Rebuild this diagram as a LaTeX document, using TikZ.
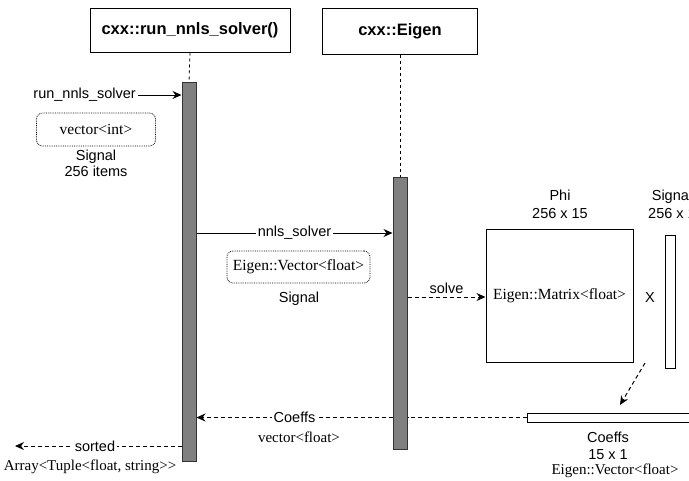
\documentclass[tikz,border=0pt]{standalone}
\usepackage{fontspec}
\setmainfont{Liberation Serif}
\setsansfont{Liberation Sans}
\usetikzlibrary{arrows.meta}

\tikzset{
  head/.style={draw, line width=1pt, inner sep=0pt, minimum height=44pt,
    font=\sffamily\bfseries\fontsize{16.5}{19}\selectfont},
  actbar/.style={draw=black!80, fill=black!50, line width=1pt,
    minimum width=14pt, inner sep=0pt, anchor=north},
  msg/.style={font=\sffamily\fontsize{14.5}{18}\selectfont, inner sep=2pt, align=center},
  typ/.style={font=\fontsize{15}{17}\selectfont, inner sep=1pt},
  typbox/.style={draw, densely dotted, line width=0.8pt, rounded corners=6pt,
    font=\fontsize{15.5}{17}\selectfont, inner sep=0pt},
  life/.style={dashed, line width=0.8pt},
  call/.style={line width=1pt, -{Stealth[length=9pt,width=8pt]}},
  reply/.style={line width=1pt, dash pattern=on 4pt off 3pt, -{Stealth[length=9pt,width=8pt]}},
}

\begin{document}
\begin{tikzpicture}[x=1pt, y=-1pt]
    \useasboundingbox (0,0) rectangle (689,480);
    \clip (0,0) rectangle (689,480);

    % Participants
    \node[head, minimum width=200pt] (runner) at (190,30) {cxx::run\_nnls\_solver()};
    \node[head, minimum width=155pt, minimum height=46pt] (eigen) at (400,31) {cxx::Eigen};

    % Activations
    \node[actbar, minimum height=379pt] (act1) at (189,82) {};
    \node[actbar, minimum height=272pt] (act2) at (400,177) {};
    \draw[life] (runner.south) -- (act1.north);
    \draw[life] (eigen.south) -- (act2.north);

    % Entry call
    \node[msg, anchor=east] (entry) at (138,95) {run\_nnls\_solver};
    \draw[call] (entry.east) -- (act1.west |- entry.east);
    \node[typbox, minimum width=119pt, minimum height=33pt] (intvec) at (96,129.5) {vector<int>};
    \node[msg, below=0pt] (intlbl) at (96,148) {Signal\\[-2pt]256 items};

    % Call into Eigen
    \draw[call] (act1.east |- 0,233) -- node[msg, fill=white] (solvercall) {nnls\_solver} (act2.west |- 0,233);
    \node[typbox, minimum width=143pt, minimum height=32pt] (fvec) at (298.5,267) {Eigen::Vector<float>};
    \node[msg] (fveclbl) at (299,299) {Signal};

    % Phi x Signal
    \node[draw, line width=1pt, minimum width=147pt, minimum height=133pt, inner sep=0pt,
      font=\fontsize{15.5}{17}\selectfont] (phi) at (559.5,295.5) {Eigen::Matrix<float>};
    \node[msg] (philbl) at (560,204) {Phi\\256 x 15};
    \node[msg] (times) at (650,298) {X};
    \node[draw, line width=0.6pt, minimum width=10pt, minimum height=133pt, inner sep=0pt] (sig) at (670,301.5) {};
    \node[msg] (siglbl) at (672,204) {Signal\\256 x 1};
    \draw[reply] (act2.east |- 0,297) -- node[msg, above=1pt] (solvelbl) {solve} (phi.west |- 0,297);

    % Result vector
    \node[draw, line width=0.6pt, minimum width=180pt, minimum height=9pt, inner sep=0pt] (coeffs) at (617,417.5) {};
    \coordinate (prod) at (645,363);
    \coordinate (prodend) at (620,405);
    \draw[reply] (prod) -- (prodend);
    \node[msg] (coeffslbl) at (608,446) {Coeffs\\[-1pt]15 x 1};
    \node[typ] (coeffstyp) at (615,471) {Eigen::Vector<float>};

    % Replies
    \draw[line width=1pt, dash pattern=on 4pt off 3pt] (coeffs.west) -- (act2.east |- coeffs.west);
    \draw[reply] (act2.west |- coeffs.west) -- node[msg, fill=white, pos=0.5] (back) {Coeffs} (act1.east |- coeffs.west);
    \node[typ] (backtyp) at (299,437) {vector<float>};
    \coordinate (out) at (15,446);
    \draw[reply] (act1.west |- out) -- node[msg, fill=white, pos=0.52] (sorted) {sorted} (out);
    \node[typ] (sortedtyp) at (90,467) {Array<Tuple<float, string>{}>};
\end{tikzpicture}
\end{document}
